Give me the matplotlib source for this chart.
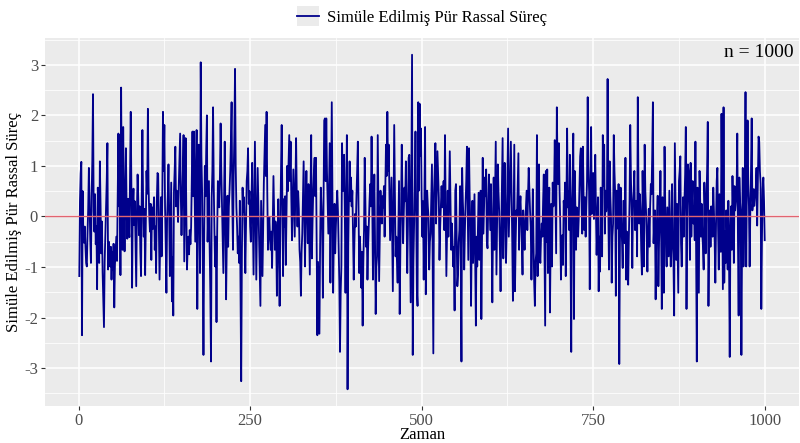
import numpy as np
import matplotlib
matplotlib.use("Agg")
import matplotlib.pyplot as plt
from matplotlib.legend_handler import HandlerLine2D
from matplotlib.patches import Rectangle

# simüle edilmiş pür rassal süreç (n = 1000)
sim = [
    -1.18, 0.30, 0.85, 1.08, -2.35, 0.50, -0.47, -0.52, -0.20, -0.60, -0.92, -0.99, -0.35, 0.15, 0.96, 0.20, -0.45, -0.92, 0.40, 1.10,
    2.42, 0.10, -0.30, 0.44, -0.55, -0.20, -1.44, 0.57, 0.10, -0.92, 1.09, 0.25, -0.73, -0.10, -1.10, -1.64, -2.19, -0.90, -0.34, 0.20,
    0.70, 1.45, -1.05, -0.50, -0.78, -0.99, -0.60, -1.25, -0.70, -1.05, -0.54, -1.80, -0.95, -0.66, -0.40, -0.88, 0.30, 1.64, 0.20, 1.61,
    -1.16, 2.55, 0.10, -0.66, 1.77, 0.40, -0.69, 0.30, 1.35, 0.15, -0.44, 0.35, -0.15, -0.41, 0.90, 2.07, 0.50, -1.41, 0.24, 0.55,
    -0.17, 0.30, -0.60, -1.38, 0.10, 0.83, 0.35, -0.37, 0.20, -0.70, -1.18, 0.40, 1.71, 0.34, -0.40, 0.15, -1.16, -0.20, 0.90, 0.45,
    2.13, 0.60, 0.01, -0.30, 0.25, -0.86, 0.18, -0.25, 0.10, 0.38, -0.66, -0.20, -1.12, 0.30, 0.86, 0.83, -0.30, -1.25, -0.40, 0.38,
    -0.79, 0.40, 2.07, 0.90, 1.81, 0.18, -0.60, -1.51, -0.05, 0.40, 1.03, 0.10, -1.18, -0.20, 0.67, -1.68, -0.80, -1.96, 0.50, 0.90,
    1.38, 0.20, 0.51, 0.30, -0.11, 0.60, 1.10, 1.64, 0.40, -0.37, 0.25, 0.90, 1.61, -0.89, 0.30, 1.55, 0.10, -1.05, -0.60, -0.40,
    -0.75, -0.27, -0.55, -0.21, 0.70, 1.68, 0.40, 1.68, 0.50, -0.50, 0.60, 1.71, -1.83, 0.20, 1.42, 0.10, -1.12, 3.05, 1.20, 0.51,
    -0.90, -2.74, -0.50, 1.00, 0.40, 1.30, 2.00, -0.50, 0.10, 0.70, -0.60, -1.50, -2.87, 0.38, 0.90, 2.16, 0.60, -0.30, -0.99, -0.40,
    -2.09, -0.30, 0.70, 0.40, 0.18, 0.80, 1.84, 0.90, 0.25, -0.40, -1.12, 0.30, 1.48, -0.20, -1.64, -0.50, 0.41, -0.60, 0.20, 0.50,
    0.90, 1.50, 2.26, 0.30, -0.66, 0.80, 1.60, 2.92, 1.00, 0.18, -0.20, -0.73, -0.40, -0.92, 0.31, -1.40, -3.26, -0.80, 0.57, 0.10,
    0.38, -0.30, -1.12, -0.20, 0.70, 0.90, 1.35, 0.25, 0.50, -0.20, -0.50, 0.40, 1.06, -0.10, -1.15, 0.20, 1.48, 0.10, -1.25, -0.20,
    0.96, 0.30, -0.34, -1.00, -1.77, 0.31, -0.40, -1.18, -0.20, 0.67, 1.20, 1.81, 0.80, 2.07, 0.50, -0.66, -0.30, -0.01, -0.40, -0.66,
    -0.30, -1.02, -0.10, 0.80, 0.10, -0.66, -0.10, -0.34, -1.57, -0.50, 0.34, -0.60, -1.77, -0.20, 0.90, 1.81, 0.30, -1.18, 0.34, -0.20,
    0.40, -0.96, 0.10, 1.00, 0.50, 1.10, 1.61, 0.70, 1.48, 0.40, -0.47, 0.20, 0.93, 0.30, -0.40, 0.60, 1.55, 0.40, -0.20, 0.50,
    0.15, -0.66, -0.90, -1.57, -0.70, -0.34, 0.40, 1.09, 0.10, -0.99, 0.20, 0.90, 0.10, -0.53, 0.64, -0.20, -1.15, 0.40, 1.61, -0.83,
    -0.10, 0.51, 0.90, 1.16, 0.40, 1.16, -0.50, -2.35, -0.90, -1.60, -2.32, -0.60, 0.57, 0.20, -0.27, -1.61, 0.30, 1.90, 1.94, 0.70,
    1.94, 0.90, 0.30, -0.34, 0.50, 1.45, -1.31, 0.40, 2.26, 0.30, -1.51, -0.40, 0.25, -0.73, -0.20, 0.20, 0.51, 0.10, -0.66, -1.30,
    -2.68, -1.50, -0.99, 1.45, 0.50, 0.80, 1.22, 0.10, -1.51, 0.20, 1.61, -3.42, -0.60, 0.40, 1.09, 0.30, 0.77, 0.20, 0.51, -0.40,
    -1.25, -0.50, 0.05, -0.20, 0.41, 0.90, 1.48, 0.20, -1.12, -0.40, -0.80, -1.41, -0.70, -2.16, -0.90, -0.27, 1.16, 0.30, -0.60, -0.20,
    -1.25, -0.60, -0.14, 0.30, 0.64, 0.20, 1.58, 0.30, -1.25, -0.30, 0.83, -0.40, -1.93, -1.00, -0.79, 1.61, 0.20, -1.28, -0.40, 0.51,
    0.10, -0.14, 0.40, 0.18, 0.60, -0.40, 0.50, 1.42, 0.80, 2.07, 0.90, 1.42, 0.40, -0.47, 0.20, 0.77, -0.30, -1.48, 0.30, 1.81,
    0.40, -0.79, -0.40, -0.90, -1.31, -0.30, 0.70, -1.93, -0.60, 0.12, 1.42, 0.40, -0.53, 0.10, 0.57, 0.30, 1.09, 0.10, -1.12, -0.20,
    1.16, 1.22, -0.30, -1.70, 0.80, 3.20, -2.74, -0.90, -0.14, 0.60, 1.68, 0.20, -1.44, -1.77, 2.26, 0.51, 2.23, 1.20, 1.74, 0.40,
    -0.40, 0.30, -1.25, 0.40, 1.77, -1.54, -0.30, 0.51, 0.20, -0.01, -1.05, -0.50, -0.34, 0.40, 1.03, -0.80, -2.71, 0.47, 0.90, 1.45,
    -0.14, 0.50, 1.29, 0.80, 0.38, -0.86, -0.20, 0.21, 0.60, 0.18, 0.40, 0.70, -0.27, 1.61, 0.20, -1.18, -0.30, 0.51, -0.40, 0.50,
    1.29, 0.30, -0.66, -0.14, -0.50, -0.99, -0.60, -1.86, 0.51, 0.64, -0.40, -1.38, -1.15, -0.50, -0.27, 0.60, -0.90, -2.87, 0.96, 0.30,
    -0.08, -1.05, -0.30, 0.25, 0.70, 1.38, 0.20, -0.86, 1.35, 0.40, -0.21, -1.77, -0.40, 0.31, -0.92, -0.20, 0.44, -0.80, -2.16, -0.40,
    -0.99, -0.30, 0.47, -0.86, -0.10, 0.51, -2.03, -0.30, 1.16, -0.34, 0.20, 0.77, 0.40, 0.93, -0.50, -0.63, 0.20, 0.83, 0.30, -0.27,
    0.64, -0.40, -1.70, -0.20, 0.77, -0.66, 0.50, 1.48, -1.15, -0.10, 1.03, 0.47, 0.10, -0.63, -1.48, -0.30, 0.64, 1.55, -0.83, 0.20,
    1.06, 0.10, -0.92, -0.20, 0.77, 1.74, -0.40, 0.20, 0.77, 1.48, 0.50, -0.47, -1.67, -0.20, 1.42, -1.48, -0.50, 0.12, 0.02, 0.60,
    1.25, -0.66, 0.18, 0.40, -0.05, -0.50, -1.15, 0.12, -0.30, -0.66, -0.14, 0.20, 0.51, -0.27, 0.40, 0.96, 0.51, 0.10, -0.21, -1.25,
    -0.40, 0.54, -0.50, -1.31, -1.77, -0.90, -0.73, 1.61, -1.18, 0.20, 1.03, -0.73, -0.92, -0.40, -0.14, -0.40, 0.30, 0.83, -0.60, -2.16,
    0.90, -0.50, 0.93, -1.12, -0.20, 0.57, -1.90, -0.50, 0.25, -0.99, 0.67, 0.20, 0.51, 1.51, 0.30, -0.73, 2.16, 1.00, 0.64, 1.45,
    0.50, -0.14, -1.25, -0.60, -0.37, -0.96, 0.31, 0.10, 0.67, -1.18, 0.30, 1.74, 0.18, 0.50, -0.27, 1.22, -0.90, -2.68, 0.31, 0.80,
    1.64, -2.03, 0.90, 0.20, -0.66, 0.18, -0.20, -0.40, -0.01, 0.60, 1.19, 1.35, 0.30, -0.34, 1.38, 0.40, -0.27, 0.38, -0.40, 0.20,
    0.70, 2.36, 1.00, 0.51, -1.44, 0.40, 1.77, 0.05, 0.40, 0.86, -0.05, 0.50, 1.22, 0.12, -0.76, -0.10, 0.38, -1.48, -0.40, -1.09,
    0.57, 0.10, -0.79, 1.61, 0.60, 1.42, -0.34, 0.51, 0.10, 0.31, 2.72, 0.20, -1.05, 1.09, 0.40, -0.01, -1.31, -0.40, -0.14, 1.61,
    0.90, 0.47, -1.57, 0.51, 0.10, -0.24, 0.64, -2.92, -0.50, 0.57, -0.14, -0.50, -1.02, 0.31, -0.10, -0.53, 1.16, -1.25, -0.30, -1.02,
    -1.35, -0.40, 0.31, 1.81, 0.77, 0.10, -1.02, 0.25, 0.50, 0.90, -0.27, 0.10, 0.31, -0.79, 2.36, 0.60, -0.14, 0.44, 0.10, -0.66,
    -1.15, 0.90, 0.10, -0.99, 1.42, 0.50, 0.12, -0.40, -1.09, -0.30, 0.15, -0.60, 0.20, 0.64, 0.44, 1.20, 2.26, -0.53, -0.10, 0.12,
    -1.64, -0.40, -0.05, 0.41, -1.38, -0.50, -0.01, 0.90, -0.30, -1.83, 0.38, -0.40, -1.51, 1.38, 0.20, -0.53, -0.99, 0.18, -0.30, -0.79,
    0.51, -0.20, -0.99, -0.53, 0.64, -0.47, -0.90, -1.96, 1.45, 0.30, -0.86, 0.25, -0.60, -1.51, 0.70, 0.90, 1.19, -0.53, -0.99, -0.20,
    0.38, -0.40, 0.30, 0.83, 1.77, -1.83, 0.20, 1.03, 0.90, 0.10, -0.86, 1.06, -0.40, 0.30, 0.70, -0.14, 0.20, -0.47, 1.48, -0.60,
    -2.87, 0.57, -0.50, -1.51, 0.90, 0.20, -0.40, 0.25, -0.34, -0.60, -1.05, 0.67, 0.10, -0.73, 0.31, 0.90, 1.87, -1.77, -0.40, 0.12,
    -0.60, 0.20, -0.14, -0.40, 0.57, 0.10, -0.47, -1.31, -0.20, 0.70, 0.96, -0.20, -1.05, 0.44, 0.10, -0.70, 2.03, 0.20, -1.44, 2.16,
    -1.31, -0.30, -0.92, 0.12, -0.40, -1.05, 0.31, -0.90, -2.78, -0.21, 0.20, -0.66, 0.80, 0.10, -0.92, 0.60, 0.12, 0.30, 0.47, 1.64,
    -0.50, -1.96, 0.77, 0.30, 0.08, -2.74, -0.40, 0.96, -0.99, -0.20, 0.44, 2.46, -0.99, 0.60, 1.90, 0.64, 0.20, -0.99, 0.12, 0.90,
    1.94, 0.12, 0.30, 0.54, 0.21, 0.40, 0.57, 0.96, -0.18, 0.70, 1.58, 1.48, 0.90, 0.64, -1.83, -0.40, 0.54, 0.77, 0.30, -0.47,
]
zaman = np.arange(1, len(sim) + 1)

x_ticks = [0, 250, 500, 750, 1000]
y_ticks = [-3, -2, -1, 0, 1, 2, 3]

plt.rcParams['font.family'] = ['Liberation Serif', 'DejaVu Serif']
plt.rcParams['axes.unicode_minus'] = False


class KeyWithBox(HandlerLine2D):
    # ggplot tarzı gri kutu içinde çizgi anahtarı
    def create_artists(self, legend, orig_handle, xdescent, ydescent,
                       width, height, fontsize, trans):
        box = Rectangle((-xdescent, -ydescent - 3), width, height + 6,
                        facecolor='#EBEBEB', edgecolor='none', transform=trans)
        arts = super().create_artists(legend, orig_handle, xdescent, ydescent,
                                      width, height, fontsize, trans)
        return [box] + arts


fig = plt.figure(figsize=(8, 4.43), dpi=100)
ax = fig.add_axes([0.05625, 0.0835, 0.9425, 0.8307])
ax.set_facecolor('#EBEBEB')
for s in ax.spines.values():
    s.set_visible(False)

ax.set_xticks(x_ticks)
ax.set_xticks([125, 375, 625, 875], minor=True)
ax.set_yticks(y_ticks)
ax.set_yticks([-3.5, -2.5, -1.5, -0.5, 0.5, 1.5, 2.5, 3.5], minor=True)
ax.grid(which='major', color='white', linewidth=1.1)
ax.grid(which='minor', color='white', linewidth=0.55)
ax.set_axisbelow(True)
ax.tick_params(which='major', length=3, width=0.8, color='#333333',
               labelcolor='#4D4D4D', labelsize=12, pad=2)
ax.tick_params(which='minor', length=0)

line, = ax.plot(zaman, sim, color='#00008B', linewidth=1.3,
                label='Simüle Edilmiş Pür Rassal Süreç')
ax.axhline(0, color='#E26470', linewidth=1.0)

span = max(sim) - min(sim)
ax.set_xlim(1 - 0.05 * 999, 1000 + 0.05 * 999)
ax.set_ylim(min(sim) - 0.05 * span, max(sim) + 0.05 * span)

ax.set_xlabel('Zaman', fontsize=12)
ax.xaxis.set_label_coords(0.5, -0.058)
ax.set_ylabel('Simüle Edilmiş Pür Rassal Süreç', fontsize=12)
ax.yaxis.set_label_coords(-0.031, 0.5)
ax.text(0.993, 0.985, 'n = 1000', transform=ax.transAxes, ha='right', va='top',
        fontsize=14)

ax.legend(handles=[line], loc='lower center', bbox_to_anchor=(0.5, 1.0),
          frameon=False, fontsize=12, handlelength=1.3, handletextpad=0.5,
          borderaxespad=0.35, handler_map={line: KeyWithBox()})

fig.savefig('out.png', dpi=100)
